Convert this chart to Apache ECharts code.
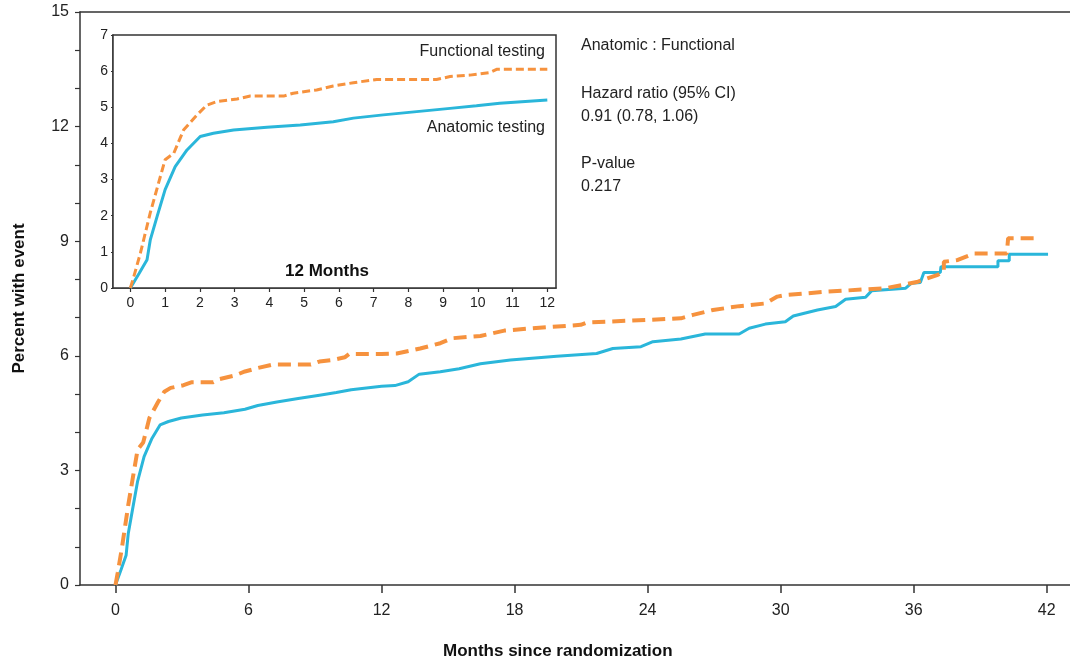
<!DOCTYPE html>
<html><head><meta charset="utf-8">
<script src="https://cdn.jsdelivr.net/npm/echarts@6/dist/echarts.min.js"></script>
<style>html,body{margin:0;padding:0;background:#fff}#c{width:1070px;height:667px}</style>
</head><body><div id="c"></div>
<script>
// ---- data ----
const anatomicMonths = [0,0.05,0.25,0.48,0.575,0.77,1.0,1.29,1.63,2.01,2.39,2.97,3.93,4.89,5.84,6.42,7.28,8.24,9.2,9.96,10.63,12.0,
  12.6,13.2,13.7,14.65,15.5,16.46,17.81,19.9,21.7,22.43,23.7,24.24,25.5,26.6,28.13,28.58,29.31,30.21,30.57,31.66,32.48,32.93,33.83,34.1,35.64,35.9,36.3,36.46,37.2,37.23,39.8,39.8,40.31,40.31,42.06];
const anatomicPct = [0,0,0.40,0.78,1.34,1.98,2.72,3.36,3.82,4.19,4.28,4.37,4.45,4.51,4.60,4.70,4.79,4.88,4.97,5.04,5.11,5.20,
  5.22,5.32,5.52,5.58,5.66,5.79,5.89,5.99,6.06,6.19,6.24,6.37,6.44,6.57,6.57,6.72,6.83,6.89,7.04,7.20,7.29,7.48,7.53,7.70,7.77,7.90,7.92,8.18,8.18,8.33,8.33,8.49,8.49,8.66,8.66];
const functionalMonths = [0,0.1,0.29,0.57,0.81,1.0,1.25,1.53,1.92,2.2,2.49,3.07,3.45,4.41,4.69,5.36,5.84,6.42,7.09,8.81,9.2,9.77,10.34,10.54,12.0,
  12.69,13.74,14.65,15.19,16.46,17.54,18.81,20.98,21.25,25.5,26.05,26.95,28.13,29.31,29.85,30.21,32.11,34.73,35.46,36.19,37.09,37.36,37.36,37.99,38.72,40.2,40.26,41.61];
const functionalPct = [0,0.32,0.97,2.07,2.90,3.55,3.73,4.37,4.79,5.06,5.16,5.23,5.31,5.31,5.39,5.48,5.59,5.68,5.77,5.77,5.85,5.89,5.96,6.05,6.05,
  6.06,6.19,6.33,6.46,6.52,6.66,6.72,6.81,6.87,6.98,7.07,7.20,7.30,7.37,7.55,7.59,7.68,7.77,7.85,7.94,8.12,8.20,8.46,8.51,8.68,8.68,9.08,9.08];
const mainXTicks = [0,6,12,18,24,30,36,42];
const insetXTicks = [0,1,2,3,4,5,6,7,8,9,10,11,12];
const insetLimit = 12;

const FONT = "'Liberation Sans', Arial, sans-serif";
const ORANGE = '#F6923E';
const BLUE = '#2AB6DA';
const AX = '#333333';

function pairs(xs, ys, lim) {
  const out = [];
  for (let i = 0; i < xs.length; i++) if (lim === undefined || xs[i] <= lim) out.push([xs[i], ys[i]]);
  return out;
}

const chart = echarts.init(document.getElementById('c'), null, {renderer: 'canvas'});
chart.setOption({
  animation: false,
  backgroundColor: '#fff',
  grid: [
    {left: 80, top: 12, width: 990, height: 573, containLabel: false},
    {left: 113, top: 35, width: 443, height: 253, show: true, borderColor: AX, borderWidth: 1.5, backgroundColor: '#fff', z: 5}
  ],
  xAxis: [
    {type: 'value', gridIndex: 0, min: -1.6, max: 43.05, position: 'bottom',
      axisLine: {show: true, onZero: false, lineStyle: {color: AX, width: 1.5}},
      axisTick: {show: true, length: 8, customValues: mainXTicks, lineStyle: {color: AX, width: 1.5}},
      axisLabel: {show: true, customValues: mainXTicks, margin: 18, fontSize: 16, color: '#222', fontFamily: FONT},
      splitLine: {show: false}},
    {type: 'value', gridIndex: 0, min: -1.6, max: 43.05, position: 'top',
      axisLine: {show: true, onZero: false, lineStyle: {color: AX, width: 1.5}},
      axisTick: {show: false}, axisLabel: {show: false}, splitLine: {show: false}},
    {type: 'value', gridIndex: 1, min: -0.5, max: 12.25, position: 'bottom',
      axisLine: {show: true, onZero: false, lineStyle: {color: AX, width: 1.5}},
      axisTick: {show: true, length: 4, customValues: insetXTicks, lineStyle: {color: AX, width: 1.2}},
      axisLabel: {show: true, customValues: insetXTicks, margin: 8, fontSize: 14, color: '#222', fontFamily: FONT},
      splitLine: {show: false}}
  ],
  yAxis: [
    {type: 'value', gridIndex: 0, min: 0, max: 15, interval: 3,
      name: 'Percent with event', nameLocation: 'middle', nameRotate: 90, nameGap: 52,
      nameTextStyle: {fontSize: 17, fontWeight: 'bold', color: '#111', fontFamily: FONT},
      axisLine: {show: true, onZero: false, lineStyle: {color: AX, width: 1.5}},
      axisTick: {show: true, length: 5, lineStyle: {color: AX, width: 1.2}},
      minorTick: {show: true, splitNumber: 3, length: 5, lineStyle: {color: AX, width: 1.2}},
      axisLabel: {margin: 11, fontSize: 16, color: '#222', fontFamily: FONT},
      splitLine: {show: false}},
    {type: 'value', gridIndex: 1, min: 0, max: 7, interval: 1,
      axisLine: {show: true, onZero: false, lineStyle: {color: AX, width: 1.5}},
      axisTick: {show: true, length: 2, lineStyle: {color: AX, width: 1.2}},
      axisLabel: {margin: 5, fontSize: 14, color: '#222', fontFamily: FONT},
      splitLine: {show: false}}
  ],
  series: [
    {type: 'line', name: 'Anatomic testing', xAxisIndex: 0, yAxisIndex: 0, showSymbol: false,
      data: pairs(anatomicMonths, anatomicPct), lineStyle: {color: BLUE, width: 3}, z: 3},
    {type: 'line', name: 'Functional testing', xAxisIndex: 0, yAxisIndex: 0, showSymbol: false,
      data: pairs(functionalMonths, functionalPct), lineStyle: {color: ORANGE, width: 4, type: [13, 7]}, z: 4},
    {type: 'line', name: 'Anatomic testing (12 mo)', xAxisIndex: 2, yAxisIndex: 1, showSymbol: false,
      data: pairs(anatomicMonths, anatomicPct, insetLimit), lineStyle: {color: BLUE, width: 3}, z: 6},
    {type: 'line', name: 'Functional testing (12 mo)', xAxisIndex: 2, yAxisIndex: 1, showSymbol: false,
      data: pairs(functionalMonths, functionalPct, insetLimit), lineStyle: {color: ORANGE, width: 3, type: [8, 4]}, z: 7}
  ],
  graphic: [
    {type: 'text', left: 443, top: 643, z: 10, style: {text: 'Months since randomization', font: "bold 17px " + FONT, fill: '#111'}},
    {type: 'text', right: 1070 - 545, top: 44, z: 10, style: {text: 'Functional testing', font: "16px " + FONT, fill: '#222'}},
    {type: 'text', right: 1070 - 545, top: 120, z: 10, style: {text: 'Anatomic testing', font: "16px " + FONT, fill: '#222'}},
    {type: 'text', left: 285, top: 263, z: 10, style: {text: '12 Months', font: "bold 17px " + FONT, fill: '#111'}},
    {type: 'text', left: 581, top: 38, z: 10, style: {text: 'Anatomic : Functional', font: "16px " + FONT, fill: '#222'}},
    {type: 'text', left: 581, top: 86, z: 10, style: {text: 'Hazard ratio (95% CI)', font: "16px " + FONT, fill: '#222'}},
    {type: 'text', left: 581, top: 109, z: 10, style: {text: '0.91 (0.78, 1.06)', font: "16px " + FONT, fill: '#222'}},
    {type: 'text', left: 581, top: 156, z: 10, style: {text: 'P-value', font: "16px " + FONT, fill: '#222'}},
    {type: 'text', left: 581, top: 179, z: 10, style: {text: '0.217', font: "16px " + FONT, fill: '#222'}}
  ]
});
</script></body></html>
